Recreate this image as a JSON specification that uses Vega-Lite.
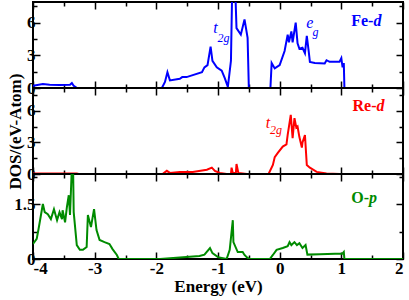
{
  "$schema": "https://vega.github.io/schema/vega-lite/v6.json",
  "autosize": {"type": "none"},
  "padding": {"left": 33, "top": 2, "right": 376, "bottom": 298},
  "spacing": 0,
  "bounds": "flush",
  "datasets": {
    "fe": [
      {"e": -4.0, "dos": 0.2}, {"e": -3.84, "dos": 0.36}, {"e": -3.73, "dos": 0.3}, {"e": -3.57, "dos": 0.28}, {"e": -3.4, "dos": 0.3}, {"e": -3.37, "dos": 0.45}, {"e": -3.34, "dos": 0.2}, {"e": -3.29, "dos": 0.02}, {"e": -3.24, "dos": 0},
      {"e": -1.91, "dos": 0}, {"e": -1.86, "dos": 0.55}, {"e": -1.82, "dos": 1.45}, {"e": -1.78, "dos": 0.7}, {"e": -1.62, "dos": 0.85}, {"e": -1.58, "dos": 1.0}, {"e": -1.51, "dos": 1.0}, {"e": -1.26, "dos": 1.45}, {"e": -1.22, "dos": 1.9}, {"e": -1.17, "dos": 2.1}, {"e": -1.12, "dos": 3.8}, {"e": -1.09, "dos": 2.5}, {"e": -1.02, "dos": 1.9}, {"e": -0.94, "dos": 1.6}, {"e": -0.89, "dos": 0.9}, {"e": -0.84, "dos": 0.1},
      {"e": -0.79, "dos": 2.5}, {"e": -0.77, "dos": 9}, {"e": -0.72, "dos": 9}, {"e": -0.70, "dos": 5.5}, {"e": -0.63, "dos": 4.9}, {"e": -0.57, "dos": 6.3}, {"e": -0.52, "dos": 4.6}, {"e": -0.50, "dos": 0},
      {"e": -0.15, "dos": 0}, {"e": -0.13, "dos": 2.3}, {"e": -0.08, "dos": 1.8}, {"e": 0.0, "dos": 2.1}, {"e": 0.08, "dos": 3.4}, {"e": 0.13, "dos": 4.9}, {"e": 0.15, "dos": 4.2}, {"e": 0.19, "dos": 5.2}, {"e": 0.21, "dos": 4.2}, {"e": 0.26, "dos": 6.0}, {"e": 0.29, "dos": 4.1}, {"e": 0.32, "dos": 3.6}, {"e": 0.37, "dos": 3.7}, {"e": 0.41, "dos": 3.2}, {"e": 0.44, "dos": 4.8}, {"e": 0.47, "dos": 3.4}, {"e": 0.49, "dos": 2.4},
      {"e": 0.57, "dos": 2.3}, {"e": 0.73, "dos": 2.25}, {"e": 0.76, "dos": 2.55}, {"e": 0.81, "dos": 2.4}, {"e": 0.97, "dos": 2.4}, {"e": 1.0, "dos": 2.75}, {"e": 1.02, "dos": 1.9}, {"e": 1.04, "dos": 2.3}, {"e": 1.05, "dos": 0}, {"e": 2.0, "dos": 0}
    ],
    "re": [
      {"e": -4.0, "dos": 0.05}, {"e": -3.29, "dos": 0.05}, {"e": -3.26, "dos": 0}, {"e": -1.9, "dos": 0}, {"e": -1.83, "dos": 0.3}, {"e": -1.78, "dos": 0.1}, {"e": -1.62, "dos": 0.2}, {"e": -1.41, "dos": 0.2}, {"e": -1.18, "dos": 0.4}, {"e": -1.10, "dos": 0.6}, {"e": -1.05, "dos": 0.3}, {"e": -0.97, "dos": 0.1}, {"e": -0.86, "dos": 0},
      {"e": -0.79, "dos": 0}, {"e": -0.78, "dos": 0.6}, {"e": -0.76, "dos": 0.1}, {"e": -0.71, "dos": 0.1}, {"e": -0.70, "dos": 0.95}, {"e": -0.67, "dos": 0.1}, {"e": -0.53, "dos": 0},
      {"e": -0.18, "dos": 0}, {"e": -0.11, "dos": 0.85}, {"e": -0.08, "dos": 1.6}, {"e": -0.03, "dos": 2.0}, {"e": 0.05, "dos": 2.6}, {"e": 0.11, "dos": 2.8}, {"e": 0.13, "dos": 3.7}, {"e": 0.18, "dos": 5.6}, {"e": 0.21, "dos": 3.4}, {"e": 0.24, "dos": 5.3}, {"e": 0.27, "dos": 4.4}, {"e": 0.29, "dos": 4.5}, {"e": 0.32, "dos": 3.5}, {"e": 0.36, "dos": 2.5}, {"e": 0.37, "dos": 3.0}, {"e": 0.41, "dos": 3.7}, {"e": 0.44, "dos": 0.85}, {"e": 0.49, "dos": 0.6}, {"e": 0.60, "dos": 0.2}, {"e": 0.76, "dos": 0.05}, {"e": 0.97, "dos": 0}, {"e": 2.0, "dos": 0}
    ],
    "op": [
      {"e": -4.0, "dos": 0.41}, {"e": -3.94, "dos": 0.55}, {"e": -3.91, "dos": 0.82}, {"e": -3.84, "dos": 1.5}, {"e": -3.81, "dos": 1.28}, {"e": -3.76, "dos": 1.22}, {"e": -3.71, "dos": 1.09}, {"e": -3.66, "dos": 1.36}, {"e": -3.61, "dos": 1.06}, {"e": -3.57, "dos": 1.28}, {"e": -3.53, "dos": 1.09}, {"e": -3.52, "dos": 1.33}, {"e": -3.48, "dos": 1.0}, {"e": -3.45, "dos": 1.42}, {"e": -3.42, "dos": 1.74}, {"e": -3.40, "dos": 1.2}, {"e": -3.37, "dos": 2.5}, {"e": -3.35, "dos": 2.5}, {"e": -3.34, "dos": 1.28}, {"e": -3.29, "dos": 0.38}, {"e": -3.24, "dos": 0.25}, {"e": -3.19, "dos": 0.25}, {"e": -3.13, "dos": 0.33}, {"e": -3.11, "dos": 1.2}, {"e": -3.06, "dos": 0.87}, {"e": -3.01, "dos": 1.36}, {"e": -2.97, "dos": 0.79}, {"e": -2.92, "dos": 0.52}, {"e": -2.84, "dos": 0.46}, {"e": -2.76, "dos": 0.41}, {"e": -2.71, "dos": 0.27}, {"e": -2.64, "dos": 0.11}, {"e": -2.61, "dos": 0},
      {"e": -1.94, "dos": 0}, {"e": -1.30, "dos": 0.08}, {"e": -1.22, "dos": 0.12}, {"e": -1.13, "dos": 0.3}, {"e": -1.09, "dos": 0.16}, {"e": -1.0, "dos": 0.05}, {"e": -0.86, "dos": 0}, {"e": -0.81, "dos": 0.25}, {"e": -0.76, "dos": 1.06}, {"e": -0.75, "dos": 0.46}, {"e": -0.68, "dos": 0.19}, {"e": -0.60, "dos": 0.19}, {"e": -0.57, "dos": 0.11}, {"e": -0.52, "dos": 0.03}, {"e": -0.49, "dos": 0},
      {"e": -0.16, "dos": 0}, {"e": -0.11, "dos": 0.11}, {"e": -0.05, "dos": 0.25}, {"e": 0.05, "dos": 0.3}, {"e": 0.13, "dos": 0.35}, {"e": 0.16, "dos": 0.46}, {"e": 0.19, "dos": 0.38}, {"e": 0.24, "dos": 0.46}, {"e": 0.28, "dos": 0.38}, {"e": 0.32, "dos": 0.43}, {"e": 0.37, "dos": 0.3}, {"e": 0.42, "dos": 0.38}, {"e": 0.45, "dos": 0.12}, {"e": 0.65, "dos": 0.13}, {"e": 1.02, "dos": 0.15}, {"e": 1.04, "dos": 0.19}, {"e": 1.05, "dos": 0}, {"e": 2.0, "dos": 0}
    ]
  },
  "config": {
    "view": {"stroke": "black", "strokeWidth": 2},
    "axis": {
      "domain": false, "grid": false, "tickColor": "black", "tickWidth": 1.5,
      "labelFont": "Liberation Serif", "labelFontWeight": "bold", "labelFontSize": 17, "labelColor": "black",
      "titleFont": "Liberation Serif", "titleFontWeight": "bold", "titleFontSize": 17, "titleColor": "black"
    },
    "text": {"font": "Liberation Serif"}
  },
  "vconcat": [
    {
      "width": 370, "height": 86,
      "layer": [
        {
          "data": {"name": "fe"},
          "mark": {"type": "line", "color": "#0000ff", "strokeWidth": 2, "clip": true},
          "encoding": {
            "x": {"field": "e", "type": "quantitative", "scale": {"domain": [-4, 2], "nice": false},
                  "axis": {"orient": "bottom", "title": null, "labels": false, "values": [-4,-3.5,-3,-2.5,-2,-1.5,-1,-0.5,0,0.5,1,1.5,2],
                           "tickSize": {"condition": {"test": "datum.value % 1 === 0", "value": -7}, "value": -4}}},
            "y": {"field": "dos", "type": "quantitative", "scale": {"domain": [0, 7.9], "nice": false},
                  "axis": {"orient": "left", "title": null, "values": [0,1.5,3,4.5,6,7.5],
                           "labelExpr": "datum.value % 3 === 0 ? '' + datum.value : ''", "labelPadding": 5,
                           "tickSize": {"condition": {"test": "datum.value % 3 === 0", "value": -7}, "value": -4}}}
          }
        },
        {
          "data": {"name": "fe"},
          "mark": {"type": "line", "opacity": 0},
          "encoding": {
            "x": {"field": "e", "type": "quantitative", "axis": {"orient": "top", "title": null, "labels": false, "values": [-4,-3.5,-3,-2.5,-2,-1.5,-1,-0.5,0,0.5,1,1.5,2],
                           "tickSize": {"condition": {"test": "datum.value % 1 === 0", "value": -7}, "value": -4}}},
            "y": {"field": "dos", "type": "quantitative", "axis": {"orient": "right", "title": null, "labels": false, "values": [0,1.5,3,4.5,6,7.5],
                           "tickSize": {"condition": {"test": "datum.value % 3 === 0", "value": -7}, "value": -4}}}
          }
        },
        {
          "data": {"values": [{"x": 1.52, "y": 6.2, "t": "Fe-"}]},
          "mark": {"type": "text", "fontWeight": "bold", "fontSize": 16, "color": "#0000ff", "align": "right", "baseline": "middle"},
          "encoding": {"x": {"field": "x", "type": "quantitative", "axis": null}, "y": {"field": "y", "type": "quantitative", "axis": null}, "text": {"field": "t"}}
        },
        {
          "data": {"values": [{"x": 1.52, "y": 6.2, "t": "d"}]},
          "mark": {"type": "text", "fontWeight": "bold", "fontStyle": "italic", "fontSize": 16, "color": "#0000ff", "align": "left", "baseline": "middle"},
          "encoding": {"x": {"field": "x", "type": "quantitative", "axis": null}, "y": {"field": "y", "type": "quantitative", "axis": null}, "text": {"field": "t"}}
        },
        {
          "data": {"values": [{"x": -1.04, "y": 5.5, "t": "t"}, {"x": 0.49, "y": 5.95, "t": "e"}]},
          "mark": {"type": "text", "fontStyle": "italic", "fontSize": 16, "color": "#0000ff", "align": "center", "baseline": "middle"},
          "encoding": {"x": {"field": "x", "type": "quantitative", "axis": null}, "y": {"field": "y", "type": "quantitative", "axis": null}, "text": {"field": "t"}}
        },
        {
          "data": {"values": [{"x": -0.91, "y": 4.6, "t": "2g"}, {"x": 0.58, "y": 5.1, "t": "g"}]},
          "mark": {"type": "text", "fontStyle": "italic", "fontSize": 12, "color": "#0000ff", "align": "center", "baseline": "middle"},
          "encoding": {"x": {"field": "x", "type": "quantitative", "axis": null}, "y": {"field": "y", "type": "quantitative", "axis": null}, "text": {"field": "t"}}
        }
      ],
      "resolve": {"axis": {"x": "independent", "y": "independent"}}
    },
    {
      "width": 370, "height": 86,
      "layer": [
        {
          "data": {"name": "re"},
          "mark": {"type": "line", "color": "#ff0000", "strokeWidth": 2, "clip": true},
          "encoding": {
            "x": {"field": "e", "type": "quantitative", "scale": {"domain": [-4, 2], "nice": false},
                  "axis": {"orient": "bottom", "title": null, "labels": false, "values": [-4,-3.5,-3,-2.5,-2,-1.5,-1,-0.5,0,0.5,1,1.5,2],
                           "tickSize": {"condition": {"test": "datum.value % 1 === 0", "value": -7}, "value": -4}}},
            "y": {"field": "dos", "type": "quantitative", "scale": {"domain": [0, 8.15], "nice": false},
                  "axis": {"orient": "left", "title": "DOS/(eV-Atom)", "titlePadding": 2, "values": [0,1.5,3,4.5,6,7.5],
                           "labelExpr": "datum.value % 3 === 0 ? '' + datum.value : ''", "labelPadding": 5,
                           "tickSize": {"condition": {"test": "datum.value % 3 === 0", "value": -7}, "value": -4}}}
          }
        },
        {
          "data": {"name": "re"},
          "mark": {"type": "line", "opacity": 0},
          "encoding": {
            "x": {"field": "e", "type": "quantitative", "axis": {"orient": "top", "title": null, "labels": false, "values": [-4,-3.5,-3,-2.5,-2,-1.5,-1,-0.5,0,0.5,1,1.5,2],
                           "tickSize": {"condition": {"test": "datum.value % 1 === 0", "value": -7}, "value": -4}}},
            "y": {"field": "dos", "type": "quantitative", "axis": {"orient": "right", "title": null, "labels": false, "values": [0,1.5,3,4.5,6,7.5],
                           "tickSize": {"condition": {"test": "datum.value % 3 === 0", "value": -7}, "value": -4}}}
          }
        },
        {
          "data": {"values": [{"x": 1.57, "y": 6.4, "t": "Re-"}]},
          "mark": {"type": "text", "fontWeight": "bold", "fontSize": 16, "color": "#ff0000", "align": "right", "baseline": "middle"},
          "encoding": {"x": {"field": "x", "type": "quantitative", "axis": null}, "y": {"field": "y", "type": "quantitative", "axis": null}, "text": {"field": "t"}}
        },
        {
          "data": {"values": [{"x": 1.57, "y": 6.4, "t": "d"}]},
          "mark": {"type": "text", "fontWeight": "bold", "fontStyle": "italic", "fontSize": 16, "color": "#ff0000", "align": "left", "baseline": "middle"},
          "encoding": {"x": {"field": "x", "type": "quantitative", "axis": null}, "y": {"field": "y", "type": "quantitative", "axis": null}, "text": {"field": "t"}}
        },
        {
          "data": {"values": [{"x": -0.19, "y": 4.86, "t": "t"}]},
          "mark": {"type": "text", "fontStyle": "italic", "fontSize": 16, "color": "#ff0000", "align": "center", "baseline": "middle"},
          "encoding": {"x": {"field": "x", "type": "quantitative", "axis": null}, "y": {"field": "y", "type": "quantitative", "axis": null}, "text": {"field": "t"}}
        },
        {
          "data": {"values": [{"x": -0.06, "y": 4.19, "t": "2g"}]},
          "mark": {"type": "text", "fontStyle": "italic", "fontSize": 12, "color": "#ff0000", "align": "center", "baseline": "middle"},
          "encoding": {"x": {"field": "x", "type": "quantitative", "axis": null}, "y": {"field": "y", "type": "quantitative", "axis": null}, "text": {"field": "t"}}
        }
      ],
      "resolve": {"axis": {"x": "independent", "y": "independent"}}
    },
    {
      "width": 370, "height": 85,
      "layer": [
        {
          "data": {"name": "op"},
          "mark": {"type": "line", "color": "#008b00", "strokeWidth": 2, "clip": true},
          "encoding": {
            "x": {"field": "e", "type": "quantitative", "scale": {"domain": [-4, 2], "nice": false},
                  "axis": {"orient": "bottom", "title": "Energy (eV)", "titlePadding": 2, "values": [-4,-3.5,-3,-2.5,-2,-1.5,-1,-0.5,0,0.5,1,1.5,2],
                           "labelExpr": "datum.value % 1 === 0 ? '' + datum.value : ''", "labelPadding": 8,
                           "tickSize": {"condition": {"test": "datum.value % 1 === 0", "value": -7}, "value": -4}}},
            "y": {"field": "dos", "type": "quantitative", "scale": {"domain": [0, 2.32], "nice": false},
                  "axis": {"orient": "left", "title": null, "values": [0,0.75,1.5,2.25],
                           "labelExpr": "datum.value % 1.5 === 0 ? '' + datum.value : ''", "labelPadding": 5,
                           "tickSize": {"condition": {"test": "datum.value % 1.5 === 0", "value": -7}, "value": -4}}}
          }
        },
        {
          "data": {"name": "op"},
          "mark": {"type": "line", "opacity": 0},
          "encoding": {
            "x": {"field": "e", "type": "quantitative", "axis": {"orient": "top", "title": null, "labels": false, "values": [-4,-3.5,-3,-2.5,-2,-1.5,-1,-0.5,0,0.5,1,1.5,2],
                           "tickSize": {"condition": {"test": "datum.value % 1 === 0", "value": -7}, "value": -4}}},
            "y": {"field": "dos", "type": "quantitative", "axis": {"orient": "right", "title": null, "labels": false, "values": [0,0.75,1.5,2.25],
                           "tickSize": {"condition": {"test": "datum.value % 1.5 === 0", "value": -7}, "value": -4}}}
          }
        },
        {
          "data": {"values": [{"x": 1.45, "y": 1.66, "t": "O-"}]},
          "mark": {"type": "text", "fontWeight": "bold", "fontSize": 16, "color": "#008b00", "align": "right", "baseline": "middle"},
          "encoding": {"x": {"field": "x", "type": "quantitative", "axis": null}, "y": {"field": "y", "type": "quantitative", "axis": null}, "text": {"field": "t"}}
        },
        {
          "data": {"values": [{"x": 1.45, "y": 1.66, "t": "p"}]},
          "mark": {"type": "text", "fontWeight": "bold", "fontStyle": "italic", "fontSize": 16, "color": "#008b00", "align": "left", "baseline": "middle"},
          "encoding": {"x": {"field": "x", "type": "quantitative", "axis": null}, "y": {"field": "y", "type": "quantitative", "axis": null}, "text": {"field": "t"}}
        }
      ],
      "resolve": {"axis": {"x": "independent", "y": "independent"}}
    }
  ]
}
